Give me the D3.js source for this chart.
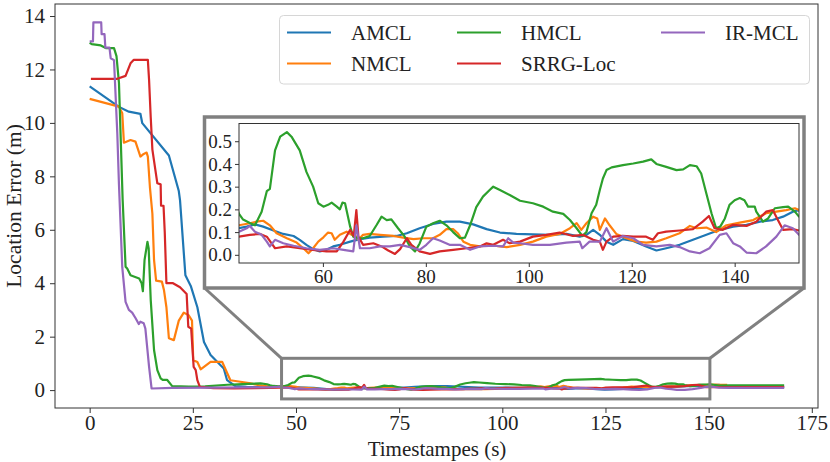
<!DOCTYPE html>
<html>
<head>
<meta charset="utf-8">
<script src="https://cdn.jsdelivr.net/npm/d3@7"></script>
<style>
body { margin: 0; background: #fff; }
text { font-family: "Liberation Serif", "DejaVu Serif", serif; fill: #222; }
</style>
</head>
<body>
<svg id="chart" width="830" height="462"></svg>
<script>
// [time (s), error (m)]
var amcl = [
    [0, 11.37], [7.1, 10.6], [9.5, 10.42], [12.3, 10.34], [12.75, 9.99], [19.2, 8.78],
    [21.6, 7.45], [21.9, 7.1], [23.2, 4.3], [24.5, 3.9], [26.1, 3.1], [27.7, 1.8],
    [29.3, 1.31], [32.5, 0.81], [33.3, 0.37], [35.3, 0.15], [38, 0.12], [41, 0.11],
    [43.7, 0.117], [45.2, 0.124], [46.8, 0.134], [48.4, 0.124], [50.4, 0.107], [52.3, 0.092],
    [54.3, 0.083], [55.5, 0.066], [56.8, 0.044], [58.1, 0.025], [59.4, 0.015], [60.7, 0.022],
    [62.0, 0.037], [63.3, 0.044], [65.3, 0.058], [67.2, 0.069], [69.1, 0.076], [71.7, 0.08],
    [74.3, 0.083], [76.3, 0.095], [78.8, 0.117], [81.4, 0.136], [84.0, 0.146], [86.6, 0.146],
    [89.2, 0.134], [91.8, 0.113], [94.4, 0.098], [97.6, 0.092], [100.8, 0.09], [104.1, 0.088],
    [107.3, 0.092], [109.9, 0.08], [111.2, 0.088], [112.5, 0.11], [113.8, 0.088], [115.1, 0.058],
    [116.4, 0.044], [118.3, 0.069], [120.3, 0.061], [122.8, 0.037], [124.8, 0.019], [126.7, 0.029],
    [129.3, 0.044], [131.9, 0.066], [134.5, 0.088], [137.1, 0.11], [139.7, 0.124], [142.3, 0.132],
    [144.9, 0.146], [147.4, 0.153], [149.4, 0.168], [151.3, 0.19], [152.5, 0.197], [154, 0.14],
    [160, 0.12], [168.3, 0.12]
];

var nmcl = [
    [0, 10.9], [7.1, 10.61], [7.9, 10.36], [8.3, 9.26], [9.9, 9.36], [11.1, 9.3], [12.3, 8.74],
    [13.1, 8.84], [13.8, 8.89], [14.1, 8.74], [14.6, 7.6], [15.2, 6.6], [15.6, 4.87], [16.1, 4.1],
    [17.5, 4.06], [18.0, 3.75], [18.6, 3.1], [19.2, 1.94], [20.4, 1.87], [21.6, 2.6], [22.8, 2.9],
    [24.0, 2.8], [24.8, 2.6], [25.1, 1.12], [26.1, 1.05], [26.9, 0.78], [29.3, 1.06], [32.1, 1.06],
    [34.1, 0.37], [35.7, 0.33], [39, 0.25], [41, 0.18],
    [43.7, 0.13], [45.8, 0.139], [47.1, 0.146], [48.4, 0.15], [49.7, 0.13], [51.0, 0.095],
    [53.0, 0.073], [54.9, 0.054], [56.2, 0.029], [57.2, 0.007], [58.1, 0.029], [59.1, 0.058],
    [60.1, 0.077], [61.0, 0.098], [61.7, 0.095], [62.3, 0.066], [63.3, 0.088], [64.6, 0.102],
    [65.6, 0.088], [66.2, 0.088], [66.9, 0.066], [67.8, 0.088], [69.1, 0.092], [71.1, 0.088],
    [73.7, 0.083], [75.6, 0.076], [77.6, 0.069], [79.5, 0.073], [81.4, 0.073], [82.7, 0.088],
    [84.0, 0.113], [85.3, 0.113], [86.2, 0.095], [87.3, 0.058], [88.6, 0.044], [90.5, 0.037],
    [92.4, 0.044], [94.4, 0.037], [95.7, 0.034], [98.3, 0.044], [100.8, 0.058], [103.4, 0.08],
    [106.0, 0.092], [108.0, 0.117], [109.3, 0.139], [110.2, 0.11], [111.2, 0.139], [112.5, 0.168],
    [113.3, 0.16], [113.8, 0.11], [114.8, 0.16], [115.7, 0.13], [117.0, 0.092], [119.0, 0.073],
    [120.9, 0.058], [122.8, 0.054], [124.8, 0.058], [126.7, 0.073], [129.3, 0.095], [131.3, 0.127],
    [132.6, 0.117], [134.5, 0.12], [136.4, 0.10], [138.4, 0.13], [141.0, 0.142], [143.6, 0.153],
    [146.1, 0.183], [148.1, 0.19], [150.0, 0.197], [151.7, 0.205], [152.5, 0.197], [154.5, 0.2]
];

var hmcl = [
    [0, 13.0], [0.5, 12.95], [2.7, 12.9], [3.9, 12.8], [5.9, 12.8], [6.5, 12.5], [7.1, 11.5],
    [8.0, 7.1], [8.7, 4.62], [9.1, 4.55], [9.9, 4.3], [12.0, 4.18], [12.6, 4.0], [12.9, 3.7],
    [13.3, 4.87], [14.0, 5.55], [14.3, 5.3], [14.8, 3.37], [15.6, 1.5], [16.4, 0.75], [17.2, 0.44],
    [17.7, 0.38], [18.8, 0.38], [20.0, 0.15], [24, 0.13], [28, 0.14], [33.4, 0.2], [37, 0.22],
    [41.4, 0.25], [43, 0.22],
    [43.7, 0.18], [44.5, 0.155], [45.8, 0.14], [46.8, 0.13], [48.1, 0.19], [49.1, 0.28],
    [49.7, 0.29], [50.7, 0.46], [51.7, 0.52], [53.0, 0.54], [53.9, 0.52], [55.5, 0.46],
    [56.8, 0.365], [58.1, 0.30], [59.1, 0.227], [60.1, 0.212], [61.0, 0.22], [61.7, 0.23],
    [62.7, 0.212], [63.3, 0.20], [63.8, 0.23], [64.3, 0.227], [65.3, 0.124], [65.9, 0.08],
    [66.9, 0.073], [67.8, 0.073], [69.1, 0.083], [70.4, 0.13], [71.4, 0.168], [72.4, 0.153],
    [73.3, 0.156], [74.6, 0.117], [75.9, 0.08], [76.9, 0.037], [77.9, 0.015], [78.8, 0.05],
    [80.1, 0.124], [81.4, 0.139], [82.7, 0.15], [84.0, 0.13], [85.3, 0.10], [86.6, 0.073],
    [87.6, 0.076], [88.6, 0.13], [89.8, 0.21], [91.1, 0.256], [92.4, 0.285], [93.1, 0.30],
    [94.4, 0.285], [96.3, 0.263], [98.3, 0.238], [100.8, 0.227], [102.8, 0.212], [104.7, 0.19],
    [106.7, 0.18], [108.0, 0.153], [109.3, 0.117], [110.4, 0.083], [111.2, 0.10], [112.2, 0.183],
    [113.1, 0.22], [113.8, 0.285], [114.4, 0.336], [115.1, 0.373], [116.1, 0.385], [118.3, 0.395],
    [120.3, 0.402], [122.2, 0.41], [123.8, 0.42], [124.8, 0.40], [126.7, 0.387], [128.7, 0.373],
    [130.0, 0.376], [131.3, 0.395], [132.6, 0.39], [133.5, 0.358], [134.5, 0.27], [135.5, 0.183],
    [136.4, 0.117], [137.2, 0.124], [138.1, 0.16], [139.0, 0.22], [140.0, 0.24], [141.0, 0.25],
    [141.9, 0.24], [142.6, 0.212], [143.9, 0.212], [144.2, 0.19], [145.5, 0.146], [146.5, 0.16],
    [147.8, 0.205], [149.4, 0.21], [150.4, 0.212], [151.7, 0.19], [152.5, 0.168], [155, 0.18],
    [168.3, 0.18]
];

var srrg = [
    [0.3, 11.65], [6.7, 11.65], [8.7, 11.76], [9.9, 12.23], [10.7, 12.36], [14.1, 12.36],
    [14.4, 11.6], [14.8, 10.2], [15.2, 9.0], [16.4, 7.74], [17.2, 7.7], [17.3, 6.9], [17.9, 6.9],
    [18.2, 5.9], [18.6, 4.0], [20.2, 4.0], [21.9, 3.85], [23.5, 3.6], [23.9, 2.37], [24.6, 2.3],
    [25.2, 0.87], [25.7, 0.75], [26.1, 0.37], [26.7, 0.12], [30, 0.07], [35, 0.06], [40, 0.07],
    [43.7, 0.08], [45.8, 0.088], [47.8, 0.092], [49.1, 0.08], [50.0, 0.051], [50.7, 0.029],
    [53.0, 0.037], [55.5, 0.029], [58.1, 0.022], [60.7, 0.015], [62.7, 0.015], [64.0, 0.058],
    [65.3, 0.11], [66.0, 0.083], [66.5, 0.197], [66.9, 0.08], [67.8, 0.044], [69.8, 0.051],
    [71.4, 0.037], [72.7, 0.019], [74.0, 0.004], [75.0, 0.025], [76.3, 0.073], [77.2, 0.044],
    [78.8, 0.015], [80.8, 0.004], [82.7, 0.015], [85.3, 0.022], [87.9, 0.029], [90.5, 0.037],
    [91.8, 0.051], [93.1, 0.044], [95.0, 0.066], [96.3, 0.051], [98.3, 0.058], [100.8, 0.08],
    [103.4, 0.088], [106.0, 0.098], [108.6, 0.083], [110.5, 0.088], [112.5, 0.066], [113.8, 0.058],
    [114.4, 0.022], [115.1, 0.058], [116.4, 0.08], [118.3, 0.083], [120.3, 0.08], [122.8, 0.08],
    [124.1, 0.066], [125.1, 0.095], [126.7, 0.102], [129.3, 0.107], [131.9, 0.113], [133.8, 0.146],
    [135.0, 0.171], [136.1, 0.117], [137.7, 0.11], [139.7, 0.132], [142.3, 0.127], [144.2, 0.146],
    [146.1, 0.19], [147.4, 0.197], [148.4, 0.153], [149.4, 0.11], [151.3, 0.113], [152.5, 0.107],
    [160, 0.11], [168.3, 0.11]
];

var irmcl = [
    [0, 13.05], [0.8, 13.05], [0.9, 13.76], [2.8, 13.76], [2.9, 13.32], [3.6, 13.32], [3.8, 12.82],
    [4.8, 12.82], [5.1, 12.42], [5.9, 12.35], [6.7, 9.6], [7.1, 7.7], [7.9, 4.6], [8.7, 3.3],
    [9.5, 3.0], [10.3, 2.9], [11.1, 2.7], [11.9, 2.47], [12.3, 2.56], [13.1, 2.5], [13.5, 2.3],
    [14.4, 0.87], [15.0, 0.06], [20, 0.08], [30, 0.09], [40, 0.1],
    [43.7, 0.102], [45.2, 0.117], [45.8, 0.127], [46.8, 0.102], [48.1, 0.088], [49.1, 0.058],
    [49.7, 0.037], [50.7, 0.066], [52.3, 0.051], [54.3, 0.04], [56.8, 0.029], [59.4, 0.022],
    [62.0, 0.029], [64.0, 0.022], [65.9, 0.015], [66.5, 0.13], [67.2, 0.029], [69.1, 0.029],
    [71.1, 0.037], [73.0, 0.037], [75.0, 0.044], [76.9, 0.034], [78.8, 0.022], [80.1, 0.044],
    [81.4, 0.073], [82.7, 0.063], [84.6, 0.044], [86.6, 0.044], [88.6, 0.022], [90.5, 0.037],
    [93.1, 0.04], [95.0, 0.037], [96.0, 0.073], [97.0, 0.054], [98.3, 0.051], [100.8, 0.044],
    [104.1, 0.044], [107.3, 0.054], [109.9, 0.058], [110.4, 0.029], [111.8, 0.058], [113.8, 0.058],
    [115.1, 0.117], [116.4, 0.058], [118.3, 0.083], [120.3, 0.073], [122.2, 0.044], [124.8, 0.037],
    [127.4, 0.044], [129.3, 0.034], [131.3, 0.015], [133.2, 0.007], [135.1, 0.029], [137.1, 0.088],
    [138.4, 0.095], [139.7, 0.051], [141.0, 0.037], [142.3, 0.01], [144.2, 0.007], [146.1, 0.037],
    [148.1, 0.08], [149.7, 0.13], [151.3, 0.117], [152.5, 0.088], [155, 0.08], [168.3, 0.08]
];

var names = ["AMCL", "NMCL", "HMCL", "SRRG-Loc", "IR-MCL"];
var colors = ["#1f77b4", "#ff7f0e", "#2ca02c", "#d62728", "#9467bd"];
var series = [amcl, nmcl, hmcl, srrg, irmcl];

var xTicks = [0, 25, 50, 75, 100, 125, 150, 175];
var yTicks = [0, 2, 4, 6, 8, 10, 12, 14];
var inXTicks = [60, 80, 100, 120, 140];
var inYTicks = [0, 0.1, 0.2, 0.3, 0.4, 0.5];

var svg = d3.select("#chart");

// main axes
var x = d3.scaleLinear().domain([-8.4, 176.5]).range([55, 818]);
var y = d3.scaleLinear().domain([-0.67, 14.45]).range([408, 4]);

var line = d3.line()
    .x(function(d) { return x(d[0]); })
    .y(function(d) { return y(d[1]); });

svg.append("g").selectAll("path")
    .data(series)
    .enter().append("path")
        .attr("d", line)
        .attr("fill", "none")
        .attr("stroke", function(d, i) { return colors[i]; })
        .attr("stroke-width", 2.2)
        .attr("stroke-linejoin", "round");

var xAxis = svg.append("g")
    .attr("transform", "translate(0,408)")
    .call(d3.axisBottom(x).tickValues(xTicks).tickSize(5).tickPadding(2.5).tickFormat(d3.format("d")));
var yAxis = svg.append("g")
    .attr("transform", "translate(55,0)")
    .call(d3.axisLeft(y).tickValues(yTicks).tickSize(5).tickPadding(5).tickFormat(d3.format("d")));
[xAxis, yAxis].forEach(function(a) {
    a.select(".domain").remove();
    a.selectAll("line").attr("stroke", "#333");
    a.selectAll("text").style("font-size", "21px").attr("fill", "#222");
});

svg.append("rect")
    .attr("x", 55).attr("y", 4).attr("width", 763).attr("height", 404)
    .attr("fill", "none").attr("stroke", "#333").attr("stroke-width", 1);

svg.append("text")
    .attr("x", 437).attr("y", 455.5)
    .attr("text-anchor", "middle")
    .style("font-size", "21px")
    .text("Timestampes (s)");

svg.append("text")
    .attr("transform", "translate(21,206) rotate(-90)")
    .attr("text-anchor", "middle")
    .style("font-size", "21.5px")
    .text("Location Error (m)");

// zoom rectangle and connectors
var zx0 = x(46.5), zx1 = x(150.3), zy0 = y(1.19), zy1 = y(-0.33);
var box = { l: 204.5, t: 117, r: 804, b: 288 };
var gray = "#808080";

svg.append("rect")
    .attr("x", zx0).attr("y", zy0).attr("width", zx1 - zx0).attr("height", zy1 - zy0)
    .attr("fill", "none").attr("stroke", gray).attr("stroke-width", 3);
svg.append("line")
    .attr("x1", zx0).attr("y1", zy0).attr("x2", box.l).attr("y2", box.b)
    .attr("stroke", gray).attr("stroke-width", 3);
svg.append("line")
    .attr("x1", zx1).attr("y1", zy0).attr("x2", box.r).attr("y2", box.b)
    .attr("stroke", gray).attr("stroke-width", 3);

// inset
svg.append("rect")
    .attr("x", box.l).attr("y", box.t).attr("width", box.r - box.l).attr("height", box.b - box.t)
    .attr("fill", "#fff").attr("stroke", gray).attr("stroke-width", 3.5);

var ix = d3.scaleLinear().domain([43.7, 152.5]).range([239, 799]);
var iy = d3.scaleLinear().domain([-0.036, 0.578]).range([263, 123.5]);

svg.append("clipPath").attr("id", "inclip")
    .append("rect").attr("x", 239).attr("y", 123.5).attr("width", 560).attr("height", 139.5);

var iline = d3.line()
    .x(function(d) { return ix(d[0]); })
    .y(function(d) { return iy(d[1]); });

svg.append("g").attr("clip-path", "url(#inclip)").selectAll("path")
    .data(series)
    .enter().append("path")
        .attr("d", function(d) { return iline(d.filter(function(p) { return p[0] >= 40 && p[0] <= 156; })); })
        .attr("fill", "none")
        .attr("stroke", function(d, i) { return colors[i]; })
        .attr("stroke-width", 2.2)
        .attr("stroke-linejoin", "round");

var ixAxis = svg.append("g")
    .attr("transform", "translate(0,263)")
    .call(d3.axisBottom(ix).tickValues(inXTicks).tickSize(4).tickPadding(3).tickFormat(d3.format("d")));
var iyAxis = svg.append("g")
    .attr("transform", "translate(239,0)")
    .call(d3.axisLeft(iy).tickValues(inYTicks).tickSize(4).tickPadding(3).tickFormat(d3.format(".1f")));
[ixAxis, iyAxis].forEach(function(a) {
    a.select(".domain").remove();
    a.selectAll("line").attr("stroke", "#333");
    a.selectAll("text").style("font-size", "19px").attr("fill", "#222");
});

svg.append("rect")
    .attr("x", 239).attr("y", 123.5).attr("width", 560).attr("height", 139.5)
    .attr("fill", "none").attr("stroke", "#333").attr("stroke-width", 1);

// legend
var legend = svg.append("g");
legend.append("rect")
    .attr("x", 279.5).attr("y", 15.5).attr("width", 530).attr("height", 68.5)
    .attr("rx", 4)
    .attr("fill", "#fff").attr("fill-opacity", 0.8)
    .attr("stroke", "#d6d6d6").attr("stroke-width", 1);

var colX = [287, 457, 661];
var rowY = [32.5, 63.5];
var entries = legend.selectAll("g.entry")
    .data(names)
    .enter().append("g")
        .attr("class", "entry")
        .attr("transform", function(d, i) {
            return "translate(" + colX[Math.floor(i / 2)] + "," + rowY[i % 2] + ")";
        });
entries.append("line")
    .attr("x1", 0).attr("x2", 44)
    .attr("stroke", function(d, i) { return colors[i]; })
    .attr("stroke-width", 2.2);
entries.append("text")
    .attr("x", 64).attr("y", 7)
    .style("font-size", "21px")
    .text(function(d) { return d; });
</script>
</body>
</html>
